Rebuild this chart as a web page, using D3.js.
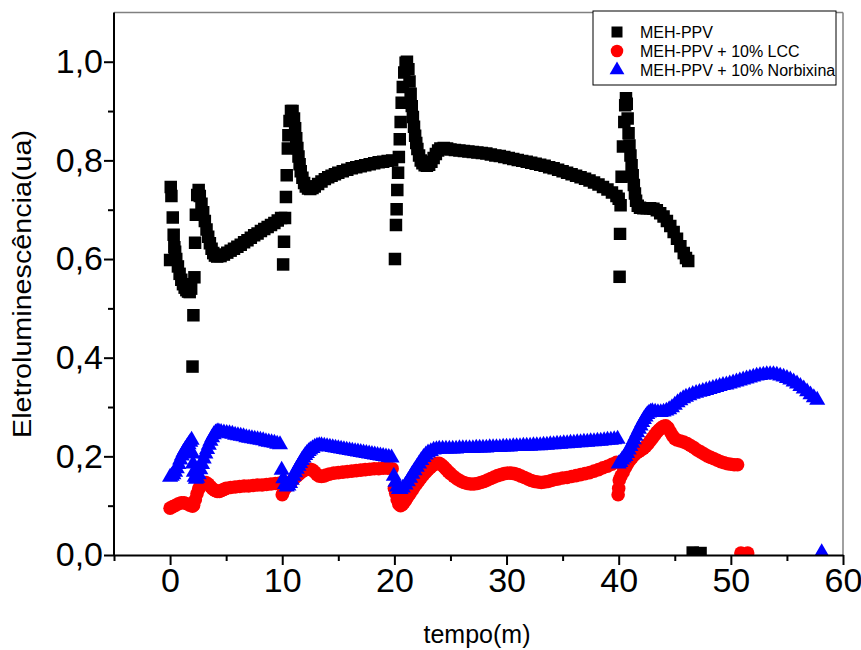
<!DOCTYPE html>
<html>
<head>
<meta charset="utf-8">
<script src="https://cdn.jsdelivr.net/npm/d3@7"></script>
<style>
  body { margin: 0; background: #fff; }
  svg { display: block; font-family: "Liberation Sans", Arial, sans-serif; }
</style>
</head>
<body>
<svg id="chart"></svg>
<script>
// MEH-PPV, [tempo (min), EL (ua)]
const mehPPV = [
  [0.0,0.598],[0.06,0.746],[0.12,0.728],[0.24,0.684],[0.32,0.649],[0.38,0.624],[0.45,0.615],[0.55,0.600],[0.7,0.585],[0.85,0.570],[1.0,0.558],[1.15,0.549],[1.3,0.542],[1.45,0.537],[1.6,0.534],[1.75,0.533],[1.88,0.540],
  [2.0,0.382],[2.08,0.486],[2.17,0.563],[2.23,0.633],[2.3,0.690],[2.42,0.730],[2.55,0.740],[2.65,0.728],[2.8,0.712],[2.95,0.695],[3.1,0.677],[3.25,0.660],[3.4,0.645],[3.55,0.632],[3.7,0.621],[3.85,0.612],[4.0,0.607],[4.2,0.605],[4.5,0.606],[4.8,0.609],[5.1,0.613],[5.4,0.617],[5.7,0.621],[6.0,0.625],[6.3,0.629],[6.6,0.634],[6.9,0.638],[7.2,0.643],[7.5,0.648],[7.8,0.652],[8.1,0.657],[8.4,0.661],[8.7,0.665],[9.0,0.669],[9.3,0.673],[9.6,0.678],[9.9,0.683],
  [10.08,0.589],[10.16,0.635],[10.25,0.683],[10.33,0.726],[10.4,0.770],[10.5,0.824],[10.55,0.851],[10.65,0.880],[10.78,0.900],[10.92,0.900],[11.05,0.885],[11.15,0.865],[11.25,0.845],[11.35,0.825],[11.45,0.808],[11.55,0.792],[11.65,0.778],[11.8,0.765],[11.95,0.754],[12.1,0.747],[12.3,0.743],[12.5,0.742],[12.7,0.744],[12.9,0.747],[13.2,0.752],[13.5,0.757],[13.8,0.762],[14.1,0.766],[14.4,0.769],[14.7,0.772],[15.0,0.775],[15.4,0.778],[15.8,0.781],[16.2,0.784],[16.6,0.786],[17.0,0.788],[17.4,0.790],[17.8,0.792],[18.2,0.794],[18.6,0.796],[19.0,0.797],[19.4,0.799],[19.8,0.800],
  [20.05,0.600],[20.14,0.669],[20.2,0.701],[20.26,0.740],[20.33,0.775],[20.4,0.807],[20.48,0.843],[20.56,0.878],[20.65,0.917],[20.75,0.949],[20.88,0.978],[21.0,0.998],[21.12,1.000],[21.25,0.985],[21.35,0.960],[21.45,0.935],[21.55,0.910],[21.65,0.888],[21.75,0.868],[21.85,0.850],[21.95,0.835],[22.05,0.823],[22.2,0.810],[22.35,0.800],[22.5,0.794],[22.7,0.790],[22.9,0.789],[23.1,0.791],[23.3,0.797],[23.5,0.805],[23.7,0.813],[23.9,0.820],[24.1,0.824],[24.4,0.825],[24.7,0.824],[25.0,0.822],[25.4,0.821],[25.8,0.820],[26.2,0.819],[26.6,0.818],[27.0,0.817],[27.4,0.816],[27.8,0.815],[28.2,0.814],[28.6,0.812],[29.0,0.810],[29.4,0.809],[29.8,0.807],[30.2,0.805],[30.6,0.803],[31.0,0.801],[31.4,0.799],[31.8,0.797],[32.2,0.795],[32.6,0.793],[33.0,0.791],[33.4,0.789],[33.8,0.786],[34.2,0.784],[34.6,0.781],[35.0,0.778],[35.4,0.775],[35.8,0.772],[36.2,0.769],[36.6,0.766],[37.0,0.763],[37.4,0.759],[37.8,0.755],[38.2,0.751],[38.6,0.746],[39.0,0.741],[39.4,0.735],[39.8,0.728],[40.0,0.722],
  [40.08,0.564],[40.12,0.651],[40.17,0.709],[40.26,0.767],[40.38,0.828],[40.5,0.878],[40.58,0.912],[40.65,0.926],[40.72,0.915],[40.8,0.885],[40.88,0.855],[40.96,0.830],[41.05,0.810],[41.15,0.790],[41.25,0.770],[41.35,0.750],[41.45,0.733],[41.55,0.718],[41.7,0.708],[41.9,0.704],[42.2,0.703],[42.5,0.703],[42.8,0.703],[43.1,0.702],[43.4,0.699],[43.7,0.693],[44.0,0.686],[44.3,0.677],[44.6,0.667],[44.9,0.655],[45.2,0.641],[45.5,0.626],[45.8,0.612],[46.0,0.602],[46.2,0.596],
  [46.6,0.005],[47.3,0.004]
];

// MEH-PPV + 10% LCC
const lcc = [
  [0.0,0.095],[0.25,0.098],[0.5,0.101],[0.75,0.104],[1.0,0.106],[1.25,0.106],[1.5,0.104],[1.75,0.101],[2.0,0.099],[2.1,0.101],[2.25,0.112],[2.4,0.124],[2.55,0.134],[2.7,0.141],[2.85,0.145],[3.0,0.147],[3.2,0.147],[3.4,0.144],[3.6,0.139],[3.8,0.134],[4.0,0.131],[4.2,0.129],[4.4,0.129],[4.6,0.131],[4.8,0.133],[5.0,0.135],[5.4,0.137],[5.8,0.138],[6.2,0.139],[6.6,0.140],[7.0,0.140],[7.4,0.141],[7.8,0.142],[8.2,0.142],[8.6,0.143],[9.0,0.144],[9.4,0.145],[9.8,0.146],
  [10.0,0.122],[10.1,0.128],[10.3,0.136],[10.5,0.141],[10.7,0.146],[10.9,0.151],[11.1,0.156],[11.3,0.160],[11.5,0.164],[11.7,0.168],[11.9,0.171],[12.1,0.173],[12.3,0.174],[12.5,0.174],[12.7,0.172],[12.9,0.168],[13.1,0.163],[13.3,0.160],[13.5,0.159],[13.7,0.160],[13.9,0.162],[14.2,0.164],[14.6,0.166],[15.0,0.167],[15.4,0.168],[15.8,0.169],[16.2,0.170],[16.6,0.171],[17.0,0.172],[17.4,0.173],[17.8,0.174],[18.2,0.175],[18.6,0.175],[19.0,0.176],[19.4,0.176],[19.8,0.175],
  [20.0,0.135],[20.12,0.125],[20.25,0.112],[20.4,0.103],[20.55,0.100],[20.7,0.102],[20.85,0.106],[21.0,0.111],[21.2,0.118],[21.4,0.125],[21.6,0.132],[21.8,0.139],[22.0,0.145],[22.2,0.151],[22.4,0.157],[22.6,0.163],[22.8,0.168],[23.0,0.173],[23.2,0.177],[23.4,0.181],[23.6,0.184],[23.8,0.186],[24.0,0.186],[24.2,0.183],[24.4,0.179],[24.6,0.174],[24.8,0.169],[25.0,0.165],[25.3,0.159],[25.6,0.154],[25.9,0.150],[26.2,0.147],[26.5,0.145],[26.8,0.144],[27.1,0.144],[27.4,0.145],[27.7,0.147],[28.0,0.149],[28.3,0.152],[28.6,0.155],[28.9,0.158],[29.2,0.161],[29.5,0.163],[29.8,0.165],[30.1,0.166],[30.4,0.166],[30.7,0.165],[31.0,0.163],[31.3,0.160],[31.6,0.157],[31.9,0.154],[32.2,0.151],[32.5,0.149],[32.8,0.148],[33.1,0.147],[33.4,0.148],[33.7,0.149],[34.0,0.151],[34.3,0.153],[34.6,0.154],[35.0,0.156],[35.4,0.157],[35.8,0.159],[36.2,0.161],[36.6,0.163],[37.0,0.165],[37.4,0.167],[37.8,0.170],[38.2,0.173],[38.6,0.177],[39.0,0.180],[39.4,0.184],[39.8,0.188],
  [39.95,0.122],[40.0,0.135],[40.05,0.152],[40.2,0.160],[40.4,0.168],[40.6,0.177],[40.8,0.185],[41.0,0.192],[41.2,0.198],[41.4,0.203],[41.6,0.207],[41.8,0.210],[42.0,0.213],[42.2,0.216],[42.4,0.220],[42.6,0.225],[42.8,0.231],[43.0,0.237],[43.2,0.243],[43.4,0.249],[43.6,0.254],[43.8,0.258],[44.0,0.261],[44.2,0.262],[44.4,0.258],[44.6,0.250],[44.8,0.242],[45.0,0.236],[45.2,0.233],[45.5,0.231],[45.8,0.229],[46.1,0.226],[46.4,0.222],[46.7,0.218],[47.0,0.213],[47.3,0.209],[47.6,0.205],[47.9,0.201],[48.2,0.198],[48.5,0.195],[48.8,0.192],[49.1,0.189],[49.4,0.187],[49.7,0.185],[50.0,0.184],[50.3,0.183],[50.6,0.183],
  [50.9,0.004],[51.5,0.004]
];

// MEH-PPV + 10% Norbixina
const norbixina = [
  [0.0,0.158],[0.15,0.160],[0.3,0.163],[0.45,0.168],[0.6,0.175],[0.75,0.184],[0.9,0.193],[1.05,0.201],[1.2,0.208],[1.35,0.214],[1.5,0.219],[1.65,0.224],[1.8,0.229],[1.92,0.233],
  [2.0,0.205],[2.05,0.185],[2.12,0.168],[2.2,0.158],[2.3,0.154],[2.42,0.156],[2.55,0.163],[2.7,0.173],[2.85,0.184],[3.0,0.195],[3.15,0.205],[3.3,0.214],[3.45,0.223],[3.6,0.231],[3.75,0.238],[3.9,0.244],[4.05,0.248],[4.2,0.250],[4.35,0.250],[4.55,0.249],[4.8,0.248],[5.05,0.247],[5.3,0.246],[5.55,0.245],[5.8,0.243],[6.05,0.242],[6.3,0.241],[6.55,0.240],[6.8,0.238],[7.05,0.237],[7.3,0.236],[7.55,0.235],[7.8,0.234],[8.05,0.233],[8.3,0.232],[8.55,0.230],[8.8,0.229],[9.05,0.228],[9.3,0.227],[9.55,0.225],[9.8,0.224],
  [9.95,0.172],[10.1,0.155],[10.25,0.143],[10.4,0.138],[10.55,0.140],[10.7,0.145],[10.85,0.152],[11.0,0.160],[11.15,0.167],[11.3,0.174],[11.45,0.180],[11.6,0.186],[11.75,0.192],[11.9,0.197],[12.05,0.202],[12.2,0.206],[12.35,0.210],[12.5,0.213],[12.7,0.216],[12.9,0.219],[13.1,0.221],[13.3,0.222],[13.5,0.222],[13.75,0.221],[14.0,0.220],[14.25,0.219],[14.5,0.218],[14.75,0.217],[15.0,0.216],[15.25,0.215],[15.5,0.214],[15.75,0.213],[16.0,0.212],[16.25,0.211],[16.5,0.210],[16.75,0.209],[17.0,0.208],[17.25,0.207],[17.5,0.206],[17.75,0.205],[18.0,0.204],[18.25,0.203],[18.5,0.202],[18.75,0.201],[19.0,0.200],[19.25,0.199],[19.5,0.198],[19.75,0.197],
  [19.95,0.160],[20.1,0.148],[20.25,0.138],[20.4,0.133],[20.55,0.133],[20.75,0.136],[21.0,0.142],[21.2,0.149],[21.4,0.156],[21.6,0.164],[21.8,0.171],[22.0,0.178],[22.2,0.185],[22.4,0.192],[22.6,0.198],[22.8,0.203],[23.0,0.207],[23.25,0.210],[23.5,0.213],[23.75,0.214],[24.0,0.215],
  [24.3,0.215],[24.6,0.215],[24.9,0.215],[25.2,0.215],[25.5,0.215],[25.8,0.216],[26.1,0.216],[26.4,0.216],[26.7,0.216],[27.0,0.216],[27.3,0.217],[27.6,0.217],[27.9,0.217],[28.2,0.217],[28.5,0.218],[28.8,0.218],[29.1,0.218],[29.4,0.218],[29.7,0.219],[30.0,0.219],[30.3,0.219],[30.6,0.220],[30.9,0.220],[31.2,0.220],[31.5,0.221],[31.8,0.221],[32.1,0.221],[32.4,0.222],[32.7,0.222],[33.0,0.222],[33.3,0.223],[33.6,0.223],[33.9,0.224],[34.2,0.224],[34.5,0.225],[34.8,0.225],[35.1,0.226],[35.4,0.226],[35.7,0.227],[36.0,0.227],[36.3,0.228],[36.6,0.228],[36.9,0.229],[37.2,0.229],[37.5,0.230],[37.8,0.230],[38.1,0.231],[38.4,0.231],[38.7,0.232],[39.0,0.233],[39.3,0.233],[39.6,0.234],[39.9,0.235],
  [40.0,0.185],[40.15,0.188],[40.3,0.193],[40.45,0.197],[40.6,0.200],[40.75,0.206],[40.9,0.213],[41.05,0.220],[41.2,0.227],[41.35,0.234],[41.5,0.241],[41.65,0.248],[41.8,0.255],[41.95,0.262],[42.1,0.269],[42.25,0.275],[42.4,0.280],[42.55,0.285],[42.7,0.288],[42.85,0.290],[43.0,0.291],[43.25,0.290],[43.5,0.289],[43.75,0.289],[44.0,0.290],[44.25,0.292],[44.5,0.295],[44.75,0.299],[45.0,0.304],[45.25,0.309],[45.5,0.313],[45.75,0.317],[46.0,0.320],[46.3,0.323],[46.6,0.326],[46.9,0.328],[47.2,0.330],[47.5,0.332],[47.8,0.334],[48.1,0.336],[48.4,0.338],[48.7,0.340],[49.0,0.342],[49.3,0.344],[49.6,0.345],[49.9,0.347],[50.2,0.349],[50.5,0.351],[50.8,0.353],[51.1,0.355],[51.4,0.357],[51.7,0.359],[52.0,0.361],[52.3,0.363],[52.6,0.364],[52.9,0.365],[53.2,0.366],[53.5,0.366],[53.8,0.366],[54.1,0.365],[54.4,0.363],[54.7,0.361],[55.0,0.358],[55.3,0.355],[55.6,0.351],[55.9,0.347],[56.2,0.342],[56.5,0.337],[56.8,0.331],[57.1,0.325],[57.4,0.319],[57.7,0.314],
  [58.1,0.005]
];

const seriesNames = ["MEH-PPV", "MEH-PPV + 10% LCC", "MEH-PPV + 10% Norbixina"];
const xMajorTicks = [0, 10, 20, 30, 40, 50, 60];
const xMinorTicks = [-5, 5, 15, 25, 35, 45, 55];
const yMajorTicks = [0, 0.2, 0.4, 0.6, 0.8, 1.0];
const yMinorTicks = [0.1, 0.3, 0.5, 0.7, 0.9];

// SVG and dimensions
const width = 861;
const height = 650;
const svg = d3.select("#chart").attr("width", width).attr("height", height);

const x = d3.scaleLinear().domain([-5, 60]).range([114, 843]);
const y = d3.scaleLinear().domain([0, 1.1]).range([555, 12.4]);

const series = [
  { data: mehPPV, color: "#000000", symbol: d3.symbolSquare, size: 156 },
  { data: lcc, color: "#ff0000", symbol: d3.symbolCircle, size: 145 },
  { data: norbixina, color: "#0000ff", symbol: d3.symbolTriangle, size: 112 }
];

// Clip to the plot frame like Origin does
svg.append("clipPath").attr("id", "plotClip")
  .append("rect")
  .attr("x", x(-5)).attr("y", y(1.1))
  .attr("width", x(60) - x(-5)).attr("height", y(0) - y(1.1));

// Frame lines on top and right
svg.append("line").attr("x1", x(-5)).attr("x2", x(60)).attr("y1", y(1.1)).attr("y2", y(1.1))
  .attr("stroke", "#808080").attr("stroke-width", 1.5);
svg.append("line").attr("x1", x(60)).attr("x2", x(60)).attr("y1", y(1.1)).attr("y2", y(0))
  .attr("stroke", "#808080").attr("stroke-width", 1.5);

// Data points
const plot = svg.append("g").attr("clip-path", "url(#plotClip)");
series.forEach((s) => {
  const sym = d3.symbol().type(s.symbol).size(s.size);
  plot.append("g")
    .selectAll("path")
    .data(s.data)
    .enter()
    .append("path")
    .attr("d", sym)
    .attr("transform", (d) => `translate(${x(d[0])},${y(d[1])})`)
    .attr("fill", s.color);
});

// Axes
const fmtY = (d) => d3.format(".1f")(d).replace(".", ",");

svg.append("g").attr("transform", `translate(0,${y(0)})`)
  .call(d3.axisBottom(x).tickValues(xMajorTicks).tickSize(10).tickSizeOuter(0).tickPadding(3).tickFormat(d3.format("d")));
svg.append("g").attr("transform", `translate(0,${y(0)})`)
  .call(d3.axisBottom(x).tickValues(xMinorTicks).tickSize(6).tickSizeOuter(0).tickFormat(""))
  .select(".domain").remove();

const yAxis = svg.append("g").attr("transform", `translate(${x(-5)},0)`)
  .call(d3.axisLeft(y).tickValues(yMajorTicks).tickSize(10).tickSizeOuter(0).tickPadding(1).tickFormat(fmtY));
svg.append("g").attr("transform", `translate(${x(-5)},0)`)
  .call(d3.axisLeft(y).tickValues(yMinorTicks).tickSize(6).tickSizeOuter(0).tickFormat(""))
  .select(".domain").remove();

svg.selectAll(".domain").attr("stroke", "#000").attr("stroke-width", 2);
svg.selectAll(".tick line").attr("stroke", "#000").attr("stroke-width", 2);
svg.selectAll(".tick text")
  .attr("font-family", "'Liberation Sans', Arial, sans-serif")
  .attr("font-size", 34)
  .attr("fill", "#000");

// y axis covers full height up to frame top
yAxis.select(".domain").attr("d", `M0,${y(0)}V${y(1.1)}`);

// Axis titles
svg.append("text")
  .attr("x", 477).attr("y", 643)
  .attr("text-anchor", "middle")
  .attr("font-size", 25)
  .text("tempo(m)");

svg.append("text")
  .attr("transform", "translate(31,284) rotate(-90)")
  .attr("text-anchor", "middle")
  .attr("font-size", 26)
  .attr("textLength", 308)
  .attr("lengthAdjust", "spacingAndGlyphs")
  .text("Eletroluminescência(ua)");

// Legend
const legend = svg.append("g").attr("id", "legend");
legend.append("rect")
  .attr("x", 593).attr("y", 11).attr("width", 243).attr("height", 74)
  .attr("fill", "#fff").attr("stroke", "#000").attr("stroke-width", 1);

series.forEach((s, i) => {
  const cy = 32 + i * 19;
  legend.append("path")
    .attr("d", d3.symbol().type(s.symbol).size(i === 0 ? 121 : s.size * 0.85)())
    .attr("transform", `translate(617,${cy})`)
    .attr("fill", s.color);
  legend.append("text")
    .attr("x", 640).attr("y", cy + 5.5)
    .attr("font-size", 16)
    .text(seriesNames[i]);
});
</script>
</body>
</html>
